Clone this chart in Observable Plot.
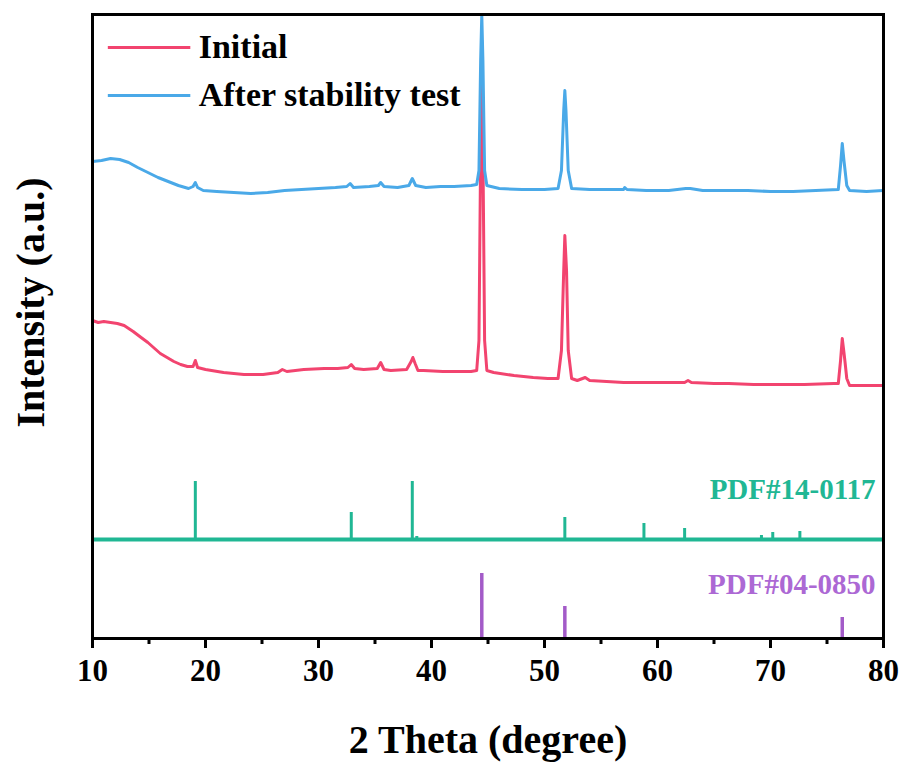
<!DOCTYPE html>
<html>
<head>
<meta charset="utf-8">
<script src="https://cdn.jsdelivr.net/npm/d3@7"></script>
<script src="https://cdn.jsdelivr.net/npm/@observablehq/plot@0.6"></script>
<style>
  html, body { margin: 0; padding: 0; background: #fff; }
  #chart { width: 908px; height: 767px; }
</style>
</head>
<body>
<div id="chart"></div>
<script>
// ---- Data (2θ in degrees, intensity in arbitrary units, offset-stacked) ----
const afterTheta = [10.0,10.8,11.6,12.4,13.2,14.0,14.9,15.8,16.7,17.6,18.5,18.9,19.1,19.3,19.8,21.0,22.5,24.0,25.5,27.0,28.5,30.0,31.5,32.5,32.8,33.1,34.5,35.3,35.5,35.8,37.0,38.0,38.3,38.6,39.5,40.8,42.0,43.5,44.0,44.2,44.35,44.45,44.55,44.7,44.9,46.0,48.0,50.0,51.2,51.5,51.7,51.8,51.9,52.1,52.4,54.0,55.0,57.0,57.1,57.3,59.0,61.0,62.5,62.9,64.0,66.0,68.0,70.0,72.0,74.0,76.0,76.2,76.35,76.5,76.6,76.75,77.0,78.5,80.0];
const afterInt   = [477,478,480,479,476,471,466,461,457,453,450,452,456,451,448,447,446,445,446,448,449,450,451,452,455,451,452,453,456,452,451,453,460,453,451,452,452,453,454,468,578,624,578,468,453,450,449,449,450,468,528,548,528,468,450,449,449,449,451,449,448,448,450,450,448,448,448,447,447,448,449,473,495,478,468,453,448,447,448];

const initTheta = [10.0,10.5,11.0,11.6,12.2,12.8,13.6,14.3,14.9,15.5,16.0,16.6,17.2,17.8,18.4,18.9,19.1,19.3,20.0,21.6,23.4,25.1,26.4,26.8,27.2,28.7,30.5,31.7,32.6,32.9,33.2,34.0,35.2,35.5,35.8,36.4,37.8,38.2,38.35,38.55,38.8,39.3,41.0,42.3,43.5,44.0,44.2,44.35,44.45,44.55,44.7,44.9,45.5,47.3,49.0,50.3,51.2,51.5,51.7,51.8,51.95,52.1,52.4,52.9,53.6,54.0,55.5,57.0,58.8,60.5,62.4,62.7,63.0,65.0,66.3,68.5,70.9,73.0,75.6,76.0,76.2,76.35,76.5,76.6,76.75,77.0,78.5,80.0];
const initInt    = [318,316,317,316,315,313,307,301,296,290,285,281,277,274,272,272,278,271,269,266,264,264,266,269,267,269,270,270,271,274,270,269,270,276,269,268,269,277,281,275,268,268,267,267,267,268,298,488,598,488,298,268,266,263,261,260,260,288,368,403,368,288,260,258,261,258,257,256,256,256,256,258,256,255,255,254,254,254,255,255,278,300,286,276,260,253,253,253];

const pdf14Theta = [19.1, 32.9, 38.3, 38.7, 51.8, 58.8, 62.4, 69.2, 70.2, 72.6];
const pdf14Int   = [157, 126, 157, 102, 121, 115, 110, 103, 106, 107];
const pdf14Base  = 99;

const pdf04Theta = [44.45, 51.8, 76.35];
const pdf04Int   = [65, 32, 21];
const pdf04Base  = 0;

const xTicks = [10, 20, 30, 40, 50, 60, 70, 80];
const xMinor = [15, 25, 35, 45, 55, 65, 75];

const seriesNames = ["Initial", "After stability test"];
const colors = { initial: "#F2446F", after: "#4AA9E8", pdf14: "#20B794", pdf04: "#A35BC8", pdf04Label: "#AC68D4" };

const initial = initTheta.map((t, i) => ({ theta: t, value: initInt[i] }));
const after = afterTheta.map((t, i) => ({ theta: t, value: afterInt[i] }));
const pdf14 = pdf14Theta.map((t, i) => ({ theta: t, value: pdf14Int[i] }));
const pdf04 = pdf04Theta.map((t, i) => ({ theta: t, value: pdf04Int[i] }));

const serif = "'Liberation Serif', 'Times New Roman', serif";

const chart = Plot.plot({
  width: 908,
  height: 767,
  marginLeft: 92,
  marginRight: 25,
  marginTop: 14,
  marginBottom: 129,
  style: { fontFamily: serif, fontWeight: "bold", background: "#fff", color: "#000" },
  x: { domain: [10, 80] },
  y: { domain: [0, 624], axis: null },
  marks: [
    // PDF#14-0117 reference
    Plot.ruleY([pdf14Base], { stroke: colors.pdf14, strokeWidth: 4 }),
    Plot.ruleX(pdf14, { x: "theta", y1: pdf14Base, y2: "value", stroke: colors.pdf14, strokeWidth: 3 }),
    // PDF#04-0850 reference
    Plot.ruleX(pdf04, { x: "theta", y1: pdf04Base, y2: "value", stroke: colors.pdf04, strokeWidth: 3.5 }),
    // measured patterns
    Plot.line(initial, { x: "theta", y: "value", stroke: colors.initial, strokeWidth: 3, clip: "frame" }),
    Plot.line(after, { x: "theta", y: "value", stroke: colors.after, strokeWidth: 3, clip: "frame" }),
    // reference labels
    Plot.text(["PDF#14-0117"], { x: 79.3, y: 149, text: d => d, textAnchor: "end", fill: colors.pdf14, fontSize: 29, fontWeight: "bold", fontFamily: serif }),
    Plot.text(["PDF#04-0850"], { x: 79.3, y: 54, text: d => d, textAnchor: "end", fill: colors.pdf04Label, fontSize: 29, fontWeight: "bold", fontFamily: serif }),
    // legend
    Plot.ruleY([591], { x1: 11.4, x2: 18.7, stroke: colors.initial, strokeWidth: 3 }),
    Plot.ruleY([543], { x1: 11.4, x2: 18.7, stroke: colors.after, strokeWidth: 3 }),
    Plot.text([seriesNames[0]], { x: 19.4, y: 591, text: d => d, textAnchor: "start", fill: "#000", fontSize: 34, fontWeight: "bold", fontFamily: serif }),
    Plot.text([seriesNames[1]], { x: 19.4, y: 543, text: d => d, textAnchor: "start", fill: "#000", fontSize: 34, fontWeight: "bold", fontFamily: serif }),
    // axes
    Plot.axisX({ ticks: xTicks, tickSize: 10, tickPadding: 10, strokeWidth: 3, fontSize: 31, fontWeight: "bold", fontFamily: serif, label: null }),
    Plot.axisX({ ticks: xMinor, tickSize: 6, tickFormat: () => "", strokeWidth: 3, label: null }),
    Plot.text(["2 Theta (degree)"], { frameAnchor: "bottom", dy: 114, text: d => d, fill: "#000", fontSize: 40, fontWeight: "bold", fontFamily: serif }),
    Plot.text(["Intensity (a.u.)"], { frameAnchor: "left", textAnchor: "middle", dx: -61, dy: -24, rotate: -90, text: d => d, fill: "#000", fontSize: 40, fontWeight: "bold", fontFamily: serif }),
    Plot.frame({ stroke: "#000", strokeWidth: 3 })
  ]
});
document.getElementById("chart").appendChild(chart);
</script>
</body>
</html>
